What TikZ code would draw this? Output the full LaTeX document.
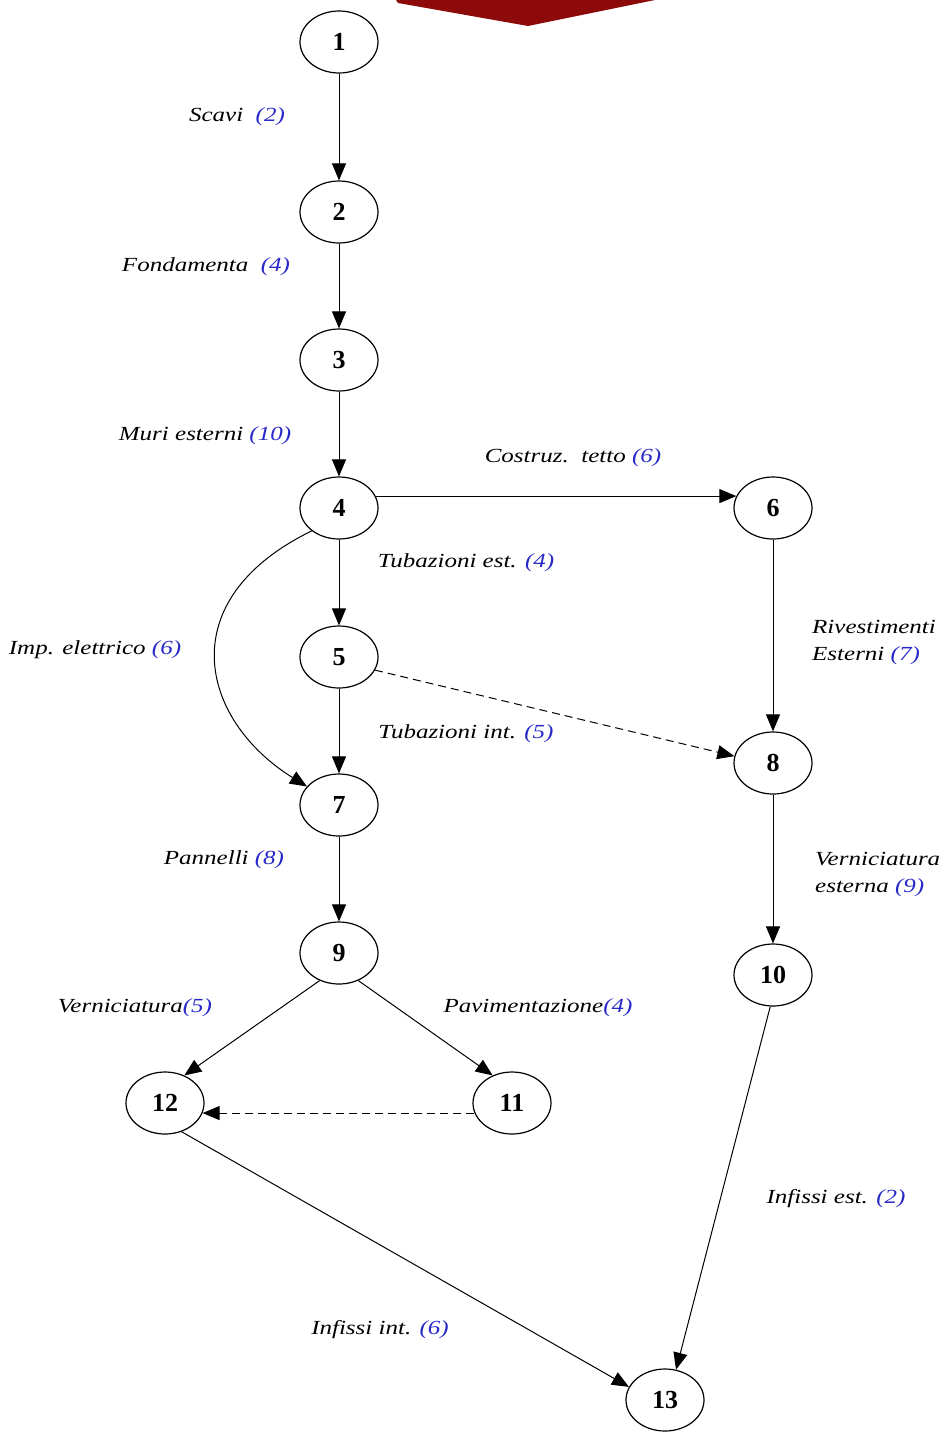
\documentclass[tikz,border=0pt]{standalone}
\usepackage{fontspec}
\setmainfont{Liberation Serif}
\newfontfamily\widefont{Liberation Serif}[FakeStretch=1.25]
\usetikzlibrary{arrows.meta,shapes.geometric}
\definecolor{banner}{RGB}{140,10,10}
\definecolor{dur}{RGB}{40,40,200}
\tikzset{
  evt/.style={draw, ellipse, line width=1.2pt, minimum width=78pt, minimum height=62pt,
    inner sep=0pt, font=\fontsize{26}{28}\selectfont\bfseries},
  act/.style={-{Triangle[length=17pt,width=14pt]}, line width=1pt},
  dummy/.style={act, dashed, dash pattern=on 8pt off 5pt},
  lbl/.style={font=\widefont\fontsize{20}{27}\selectfont\itshape, inner sep=0pt},
}
\newcommand{\dd}[1]{\textcolor{dur}{(#1)}}
\begin{document}
\begin{tikzpicture}[x=1pt,y=-1pt]
\useasboundingbox (0,0) rectangle (943,1432);
% banner tip at the top edge
\fill[banner] (396,0) -- (655,0) -- (528,26) -- (398,3) -- cycle;

% events
\node[evt] (n1) at (339,42) {1};
\node[evt] (n2) at (339,212) {2};
\node[evt] (n3) at (339,360) {3};
\node[evt] (n4) at (339,508) {4};
\node[evt] (n5) at (339,657) {5};
\node[evt] (n6) at (773,508) {6};
\node[evt] (n7) at (339,805) {7};
\node[evt] (n8) at (773,763) {8};
\node[evt] (n9) at (339,953) {9};
\node[evt] (n10) at (773,975) {10};
\node[evt] (n11) at (512,1103) {11};
\node[evt] (n12) at (165,1103) {12};
\node[evt] (n13) at (665,1400) {13};

% activities
\draw[act] (n1) -- (n2);
\draw[act] (n2) -- (n3);
\draw[act] (n3) -- (n4);
\draw[act] (n4) -- (n5);
\draw[act] (n5) -- (n7);
\draw[act] (n7) -- (n9);
\draw[act] (n4.18) -- (n6.162);
\draw[act] (n6) -- (n8);
\draw[act] (n8) -- (n10);
\draw[act] (n4.220) .. controls (170,600) and (200,720) .. (n7.150);
\draw[dummy] (n5.-20) -- (n8.170);
\draw[act] (n9.235) -- (n12.55);
\draw[act] (n9.-55) -- (n11.125);
\draw[dummy] (n11.195) -- (n12.-15);
\draw[act] (n12.-60) -- (n13.160);
\draw[act] (n10.-95) -- (n13.70);

% activity labels
\node[lbl] (l1) at (237,117) {Scavi\ \ \dd{2}};
\node[lbl] (l2) at (206,267) {Fondamenta\ \ \dd{4}};
\node[lbl] (l3) at (205,436) {Muri esterni \dd{10}};
\node[lbl] (l4) at (573,458) {Costruz.\ \ tetto \dd{6}};
\node[lbl] (l5) at (466,563) {Tubazioni est. \dd{4}};
\node[lbl] (l6) at (95,650) {Imp. elettrico \dd{6}};
\node[lbl, anchor=west, align=left] (l7) at (812,642) {Rivestimenti\\Esterni \dd{7}};
\node[lbl] (l8) at (466,734) {Tubazioni int. \dd{5}};
\node[lbl] (l9) at (224,860) {Pannelli \dd{8}};
\node[lbl, anchor=west, align=left] (l10) at (815,874) {Verniciatura\\esterna \dd{9}};
\node[lbl] (l11) at (135,1008) {Verniciatura\dd{5}};
\node[lbl] (l12) at (538,1008) {Pavimentazione\dd{4}};
\node[lbl] (l13) at (836,1199) {Infissi est. \dd{2}};
\node[lbl] (l14) at (380,1330) {Infissi int. \dd{6}};
\end{tikzpicture}
\end{document}
